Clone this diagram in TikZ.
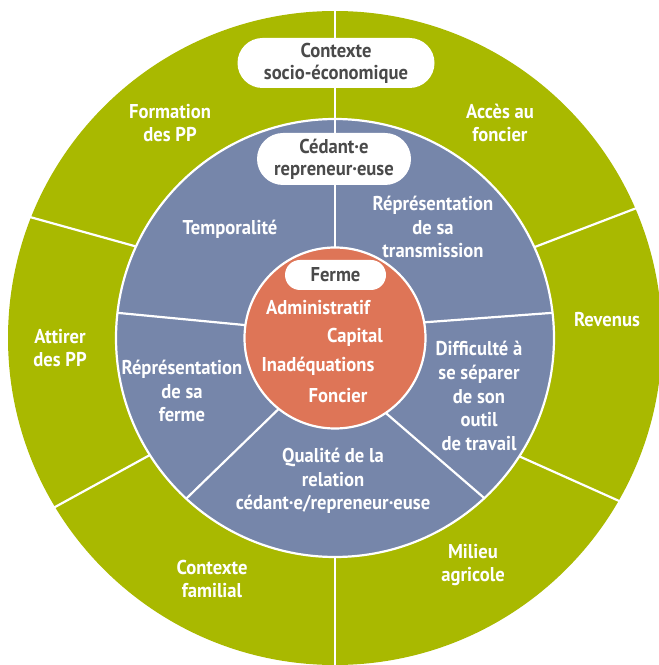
\documentclass[tikz,border=0pt]{standalone}
\usepackage{fontspec}
\newfontfamily\lab{PT Sans}[FakeStretch=0.93]
\definecolor{grn}{RGB}{169,185,0}
\definecolor{blu}{RGB}{118,134,170}
\definecolor{org}{RGB}{222,117,87}
\definecolor{txt}{RGB}{74,74,74}
\begin{document}
\begin{tikzpicture}[x=1pt,y=1pt,
  lbl/.style={text=white, font=\lab\bfseries\fontsize{20}{23.8}\selectfont, align=center, inner sep=0pt},
  tag/.style={fill=white, text=txt, font=\lab\bfseries\fontsize{20}{22}\selectfont, align=center, inner sep=0pt},
  sep/.style={white, line width=2.2pt}]
\useasboundingbox (0,0) rectangle (659,665);
\clip (0,0) rectangle (659,665);
\begin{scope}[shift={(335,327)}]
\coordinate (c) at (0,0);
% rings
\fill[grn] (c) circle (327);
\draw[sep, fill=blu] (c) circle (219);
% outer dividers
\draw[sep] (90:90) -- (90:330);
\draw[sep] (270:219) -- (270:330);
\draw[sep] (155.3:219) -- (158.4:330);
\draw[sep] (24.5:219) -- (23.3:330);
\draw[sep] (-32.7:219) -- (-29.8:330);
\draw[sep] (212.3:219) -- (211.1:330);
% blue dividers
\draw[sep] (171.8:90) -- (173.4:219);
\draw[sep] (10:90) -- (6.6:219);
\draw[sep] (-56:90) -- (-47:219);
\draw[sep] (231.6:90) -- (227.2:219);
% inner circle
\draw[sep, fill=org] (c) circle (90.5);
% tags
\node[tag, minimum width=197pt, minimum height=50pt, rounded corners=25pt] (ctx) at (1,275) {Contexte\\socio-économique};
\node[tag, minimum width=154pt, minimum height=52pt, rounded corners=26pt] (ced) at (-1,179) {Cédant·e\\repreneur·euse};
\node[tag, minimum width=101pt, minimum height=30pt, rounded corners=15pt] (fer) at (0.5,63) {Ferme};
% outer labels
\node[lbl] (form) at (-165,215) {Formation\\des PP};
\node[lbl] (acces) at (165,215) {Accès au\\foncier};
\node[lbl] (rev) at (272,18) {Revenus};
\node[lbl] (att) at (-275,-10) {Attirer\\des PP};
\node[lbl] (fam) at (-123,-241) {Contexte\\familial};
\node[lbl] (mil) at (138,-227) {Milieu\\agricole};
% middle labels
\node[lbl] (temp) at (-105,109) {Temporalité};
\node[lbl] (rtr) at (98,111) {Réprésentation\\de sa\\transmission};
\node[lbl] (diff) at (144,-58) {Difficulté à\\se séparer\\de son\\outil\\de travail};
\node[lbl] (rfe) at (-153,-53) {Réprésentation\\de sa\\ferme};
\node[lbl] (qual) at (-2,-143) {Qualité de la\\relation\\cédant·e/repreneur·euse};
% inner labels
\node[lbl] (adm) at (-17,30) {Administratif};
\node[lbl] (cap) at (20,1) {Capital};
\node[lbl] (ina) at (-17,-28) {Inadéquations};
\node[lbl] (fon) at (3,-58) {Foncier};
\end{scope}
\end{tikzpicture}
\end{document}
